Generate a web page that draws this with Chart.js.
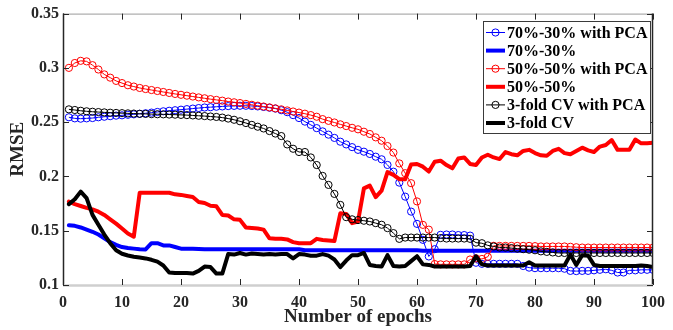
<!DOCTYPE html>
<html>
<head>
<meta charset="utf-8">
<script src="https://cdn.jsdelivr.net/npm/chart.js@4.4.1/dist/chart.umd.min.js"></script>
<style>
  html, body { margin: 0; padding: 0; background: #ffffff; }
  #wrap { width: 673px; height: 330px; }
</style>
</head>
<body>
<div id="wrap"><canvas id="c" width="673" height="330"></canvas></div>
<script>
// ---------- data ----------
const epochs = [1,2,3,4,5,6,7,8,9,10,11,12,13,14,15,16,17,18,19,20,
  21,22,23,24,25,26,27,28,29,30,31,32,33,34,35,36,37,38,39,40,
  41,42,43,44,45,46,47,48,49,50,51,52,53,54,55,56,57,58,59,60,
  61,62,63,64,65,66,67,68,69,70,71,72,73,74,75,76,77,78,79,80,
  81,82,83,84,85,86,87,88,89,90,91,92,93,94,95,96,97,98,99,100];

const seriesLabels = ['70%-30% with PCA','70%-30%','50%-50% with PCA','50%-50%','3-fold CV with PCA','3-fold CV'];

const blue70PCA = [0.2545,0.2535,0.2532,0.2535,0.2538,0.2545,0.2550,0.2555,0.2560,0.2563,
  0.2568,0.2572,0.2577,0.2582,0.2588,0.2594,0.2600,0.2605,0.2610,0.2615,
  0.2620,0.2625,0.2630,0.2635,0.2638,0.2642,0.2645,0.2648,0.2650,0.2651,
  0.2651,0.2649,0.2645,0.2640,0.2633,0.2625,0.2610,0.2592,0.2565,0.2538,
  0.2505,0.2475,0.2445,0.2415,0.2385,0.2355,0.2320,0.2295,0.2270,0.2245,
  0.2228,0.2207,0.2182,0.2158,0.2106,0.2044,0.1943,0.1814,0.1676,0.1563,
  0.1416,0.1263,0.1330,0.1462,0.1465,0.1465,0.1460,0.1460,0.1455,0.1205,
  0.1195,0.1195,0.1195,0.1195,0.1195,0.1195,0.1195,0.1175,0.1160,0.1155,
  0.1155,0.1155,0.1155,0.1155,0.1150,0.1130,0.1128,0.1130,0.1130,0.1135,
  0.1140,0.1145,0.1135,0.1115,0.1115,0.1135,0.1135,0.1140,0.1140,0.1140];

const blue70 = [0.1550,0.1545,0.1530,0.1510,0.1490,0.1465,0.1430,0.1395,0.1370,0.1350,
  0.1340,0.1335,0.1330,0.1328,0.1385,0.1385,0.1365,0.1365,0.1350,0.1335,
  0.1335,0.1335,0.1332,0.1330,0.1330,0.1330,0.1330,0.1330,0.1330,0.1330,
  0.1330,0.1330,0.1330,0.1330,0.1330,0.1330,0.1330,0.1330,0.1330,0.1330,
  0.1320,0.1320,0.1320,0.1320,0.1320,0.1320,0.1320,0.1320,0.1320,0.1320,
  0.1320,0.1320,0.1320,0.1320,0.1320,0.1320,0.1320,0.1320,0.1320,0.1320,
  0.1315,0.1315,0.1315,0.1315,0.1315,0.1315,0.1315,0.1315,0.1315,0.1315,
  0.1315,0.1315,0.1315,0.1315,0.1315,0.1315,0.1315,0.1315,0.1315,0.1315,
  0.1315,0.1315,0.1315,0.1315,0.1315,0.1315,0.1315,0.1315,0.1315,0.1315,
  0.1315,0.1315,0.1315,0.1315,0.1315,0.1315,0.1315,0.1315,0.1315,0.1315];

const red50PCA = [0.3000,0.3045,0.3065,0.3060,0.3025,0.2985,0.2940,0.2910,0.2880,0.2860,
  0.2840,0.2828,0.2815,0.2805,0.2796,0.2787,0.2778,0.2769,0.2760,0.2752,
  0.2744,0.2736,0.2728,0.2720,0.2712,0.2705,0.2698,0.2690,0.2683,0.2676,
  0.2668,0.2660,0.2652,0.2644,0.2636,0.2627,0.2618,0.2608,0.2598,0.2588,
  0.2578,0.2565,0.2550,0.2528,0.2512,0.2497,0.2480,0.2464,0.2448,0.2434,
  0.2412,0.2391,0.2360,0.2329,0.2280,0.2220,0.2120,0.2030,0.1938,0.1770,
  0.1554,0.1510,0.1193,0.1190,0.1190,0.1190,0.1190,0.1190,0.1235,0.1245,
  0.1240,0.1260,0.1361,0.1360,0.1360,0.1360,0.1360,0.1360,0.1360,0.1358,
  0.1355,0.1355,0.1355,0.1355,0.1355,0.1352,0.1348,0.1345,0.1345,0.1345,
  0.1345,0.1345,0.1345,0.1345,0.1345,0.1345,0.1345,0.1345,0.1345,0.1345];

const red50 = [0.1768,0.1745,0.1728,0.1710,0.1697,0.1675,0.1645,0.1605,0.1565,0.1520,
  0.1475,0.1445,0.1850,0.1850,0.1850,0.1850,0.1850,0.1850,0.1835,0.1830,
  0.1820,0.1810,0.1765,0.1755,0.1730,0.1725,0.1645,0.1640,0.1605,0.1600,
  0.1530,0.1525,0.1520,0.1510,0.1430,0.1425,0.1425,0.1420,0.1395,0.1385,
  0.1385,0.1385,0.1425,0.1415,0.1410,0.1405,0.1660,0.1655,0.1570,0.1585,
  0.1890,0.1915,0.1810,0.1870,0.2040,0.2015,0.1975,0.1975,0.2110,0.2115,
  0.2090,0.2045,0.2135,0.2145,0.2105,0.2075,0.2165,0.2175,0.2115,0.2105,
  0.2175,0.2200,0.2175,0.2160,0.2225,0.2205,0.2195,0.2235,0.2245,0.2215,
  0.2195,0.2190,0.2235,0.2255,0.2215,0.2205,0.2235,0.2265,0.2240,0.2225,
  0.2275,0.2290,0.2335,0.2245,0.2245,0.2245,0.2340,0.2305,0.2305,0.2310];

const cvPCA = [0.2618,0.2612,0.2605,0.2600,0.2596,0.2593,0.2590,0.2587,0.2585,0.2583,
  0.2581,0.2579,0.2577,0.2576,0.2574,0.2573,0.2572,0.2570,0.2569,0.2567,
  0.2565,0.2562,0.2559,0.2556,0.2552,0.2548,0.2542,0.2533,0.2522,0.2508,
  0.2492,0.2475,0.2458,0.2442,0.2418,0.2395,0.2372,0.2295,0.2255,0.2225,
  0.2225,0.2175,0.2105,0.2005,0.1922,0.1839,0.1738,0.1625,0.1605,0.1598,
  0.1592,0.1585,0.1570,0.1555,0.1524,0.1478,0.1425,0.1437,0.1437,0.1437,
  0.1437,0.1437,0.1437,0.1432,0.1428,0.1428,0.1428,0.1428,0.1425,0.1390,
  0.1385,0.1365,0.1355,0.1345,0.1345,0.1340,0.1335,0.1330,0.1325,0.1320,
  0.1310,0.1305,0.1300,0.1295,0.1295,0.1295,0.1295,0.1295,0.1295,0.1295,
  0.1295,0.1295,0.1295,0.1295,0.1295,0.1295,0.1295,0.1295,0.1295,0.1295];

const cv = [0.1745,0.1790,0.1860,0.1800,0.1646,0.1555,0.1465,0.1385,0.1320,0.1288,
  0.1272,0.1260,0.1253,0.1245,0.1232,0.1215,0.1180,0.1115,0.1110,0.1110,
  0.1110,0.1105,0.1130,0.1170,0.1165,0.1105,0.1105,0.1285,0.1280,0.1295,
  0.1280,0.1290,0.1285,0.1280,0.1285,0.1280,0.1285,0.1285,0.1245,0.1285,
  0.1280,0.1270,0.1270,0.1285,0.1270,0.1235,0.1165,0.1225,0.1275,0.1275,
  0.1295,0.1185,0.1175,0.1170,0.1275,0.1175,0.1170,0.1175,0.1220,0.1265,
  0.1190,0.1185,0.1170,0.1170,0.1170,0.1170,0.1170,0.1170,0.1175,0.1265,
  0.1190,0.1180,0.1180,0.1180,0.1180,0.1180,0.1180,0.1180,0.1210,0.1180,
  0.1180,0.1180,0.1180,0.1180,0.1180,0.1280,0.1185,0.1275,0.1270,0.1185,
  0.1175,0.1175,0.1175,0.1175,0.1175,0.1175,0.1175,0.1180,0.1175,0.1165];

const xTickValues = [0,10,20,30,40,50,60,70,80,90,100];
const xTickLabels = ['0','10','20','30','40','50','60','70','80','90','100'];
const yTickValues = [0.1,0.15,0.2,0.25,0.3,0.35];
const yTickLabels = ['0.1','0.15','0.2','0.25','0.3','0.35'];

// ---------- helpers ----------
const FONT = "'Liberation Serif', 'Times New Roman', serif";
const AX = '#262626';
const pts = arr => epochs.map((e, i) => ({x: e, y: arr[i]}));
const pcaStyle = color => ({
  borderColor: color, backgroundColor: 'rgba(0,0,0,0)', borderWidth: 1,
  pointRadius: 3.6, pointHoverRadius: 3.6, pointBorderWidth: 1,
  pointBorderColor: color, pointBackgroundColor: 'rgba(0,0,0,0)', pointStyle: 'circle'
});
const solidStyle = color => ({
  borderColor: color, backgroundColor: color, borderWidth: 4,
  pointRadius: 0, pointHoverRadius: 0, borderJoinStyle: 'round', borderCapStyle: 'round'
});
const legendKinds = ['pca','solid','pca','solid','pca','solid'];
const legendColors = ['#0000ff','#0000ff','#ff0000','#ff0000','#000000','#000000'];

const framePlugin = {
  id: 'frame',
  afterDatasetsDraw(chart) {
    const {ctx, chartArea: a, scales: {x, y}} = chart;
    ctx.save();
    // box
    ctx.lineWidth = 1;
    ctx.strokeStyle = '#9a9a9a';
    ctx.beginPath(); ctx.moveTo(a.left, a.top + 0.5); ctx.lineTo(a.right, a.top + 0.5); ctx.stroke();
    ctx.strokeStyle = '#262626';
    ctx.lineWidth = 1.5;
    ctx.beginPath(); ctx.moveTo(a.left + 0.5, a.top); ctx.lineTo(a.left + 0.5, a.bottom); ctx.stroke();
    ctx.beginPath(); ctx.moveTo(a.right - 0.5, a.top); ctx.lineTo(a.right - 0.5, a.bottom); ctx.stroke();
    ctx.strokeStyle = '#cfcfcf';
    ctx.lineWidth = 2.5;
    ctx.beginPath(); ctx.moveTo(a.left, a.bottom + 0.5); ctx.lineTo(a.right, a.bottom + 0.5); ctx.stroke();
    // ticks
    ctx.strokeStyle = '#262626';
    ctx.lineWidth = 1;
    const TL = 6;
    xTickValues.forEach(v => {
      const px = Math.round(x.getPixelForValue(v)) + 0.5;
      ctx.beginPath(); ctx.moveTo(px, a.top); ctx.lineTo(px, a.top + TL); ctx.stroke();
      ctx.beginPath(); ctx.moveTo(px, a.bottom); ctx.lineTo(px, a.bottom - TL); ctx.stroke();
    });
    yTickValues.forEach(v => {
      const py = Math.round(y.getPixelForValue(v)) + 0.5;
      ctx.beginPath(); ctx.moveTo(a.left, py); ctx.lineTo(a.left + TL, py); ctx.stroke();
      ctx.beginPath(); ctx.moveTo(a.right, py); ctx.lineTo(a.right - TL, py); ctx.stroke();
    });
    ctx.restore();
  },
  afterDraw(chart) {
    const {ctx} = chart;
    ctx.save();
    const bx = 483, by = 21, bw = 167, bh = 112;
    ctx.fillStyle = '#ffffff';
    ctx.fillRect(bx, by, bw, bh);
    ctx.strokeStyle = '#3a3a3a';
    ctx.lineWidth = 1;
    ctx.strokeRect(bx + 0.5, by + 0.5, bw, bh);
    ctx.font = 'bold 16px ' + FONT;
    ctx.textBaseline = 'middle';
    ctx.textAlign = 'left';
    seriesLabels.forEach((lab, i) => {
      const cy = 32.5 + i * 18.1;
      const col = legendColors[i];
      ctx.strokeStyle = col;
      if (legendKinds[i] === 'pca') {
        ctx.lineWidth = 1;
        ctx.beginPath(); ctx.moveTo(486, cy); ctx.lineTo(505, cy); ctx.stroke();
        ctx.beginPath(); ctx.arc(495.5, cy, 3.6, 0, Math.PI * 2); ctx.stroke();
      } else {
        ctx.lineWidth = 4;
        ctx.beginPath(); ctx.moveTo(486, cy); ctx.lineTo(505, cy); ctx.stroke();
      }
      ctx.fillStyle = '#000000';
      ctx.fillText(lab, 507, cy + 1);
    });
    ctx.restore();
  }
};

new Chart(document.getElementById('c'), {
  type: 'line',
  data: {
    datasets: [
      Object.assign({label: seriesLabels[0], data: pts(blue70PCA), order: 5}, pcaStyle('#0000ff')),
      Object.assign({label: seriesLabels[1], data: pts(blue70), order: 4}, solidStyle('#0000ff')),
      Object.assign({label: seriesLabels[2], data: pts(red50PCA), order: 3}, pcaStyle('#ff0000')),
      Object.assign({label: seriesLabels[3], data: pts(red50), order: 2}, solidStyle('#ff0000')),
      Object.assign({label: seriesLabels[4], data: pts(cvPCA), order: 1}, pcaStyle('#000000')),
      Object.assign({label: seriesLabels[5], data: pts(cv), order: 0}, solidStyle('#000000'))
    ]
  },
  options: {
    responsive: false,
    animation: false,
    devicePixelRatio: 1,
    layout: {padding: {left: 0, right: 14, top: 13, bottom: 0}},
    plugins: {legend: {display: false}, tooltip: {enabled: false}, title: {display: false}},
    elements: {line: {tension: 0}},
    scales: {
      x: {
        type: 'linear', min: 0, max: 100, position: 'bottom',
        afterFit: s => { s.height = 45; },
        grid: {display: false, drawTicks: false},
        border: {display: false},
        afterBuildTicks: s => { s.ticks = xTickValues.map(v => ({value: v})); },
        ticks: {
          padding: 8, color: AX, maxRotation: 0, autoSkip: false,
          font: {family: FONT, weight: 'bold', size: 16},
          callback: v => { const i = xTickValues.indexOf(v); return i >= 0 ? xTickLabels[i] : ''; }
        },
        title: {display: true, text: 'Number of epochs', color: AX,
          font: {family: FONT, weight: 'bold', size: 19}, padding: {top: 0, bottom: 2}}
      },
      y: {
        type: 'linear', min: 0.1, max: 0.35, position: 'left',
        afterFit: s => { s.width = 63; },
        grid: {display: false, drawTicks: false},
        border: {display: false},
        afterBuildTicks: s => { s.ticks = yTickValues.map(v => ({value: v})); },
        ticks: {
          padding: 4, color: AX,
          font: {family: FONT, weight: 'bold', size: 16},
          callback: v => { const i = yTickValues.findIndex(t => Math.abs(t - v) < 1e-9); return i >= 0 ? yTickLabels[i] : ''; }
        },
        title: {display: true, text: 'RMSE', color: AX,
          font: {family: FONT, weight: 'bold', size: 19}, padding: {top: 7, bottom: 0}}
      }
    }
  },
  plugins: [framePlugin]
});
</script>
</body>
</html>
